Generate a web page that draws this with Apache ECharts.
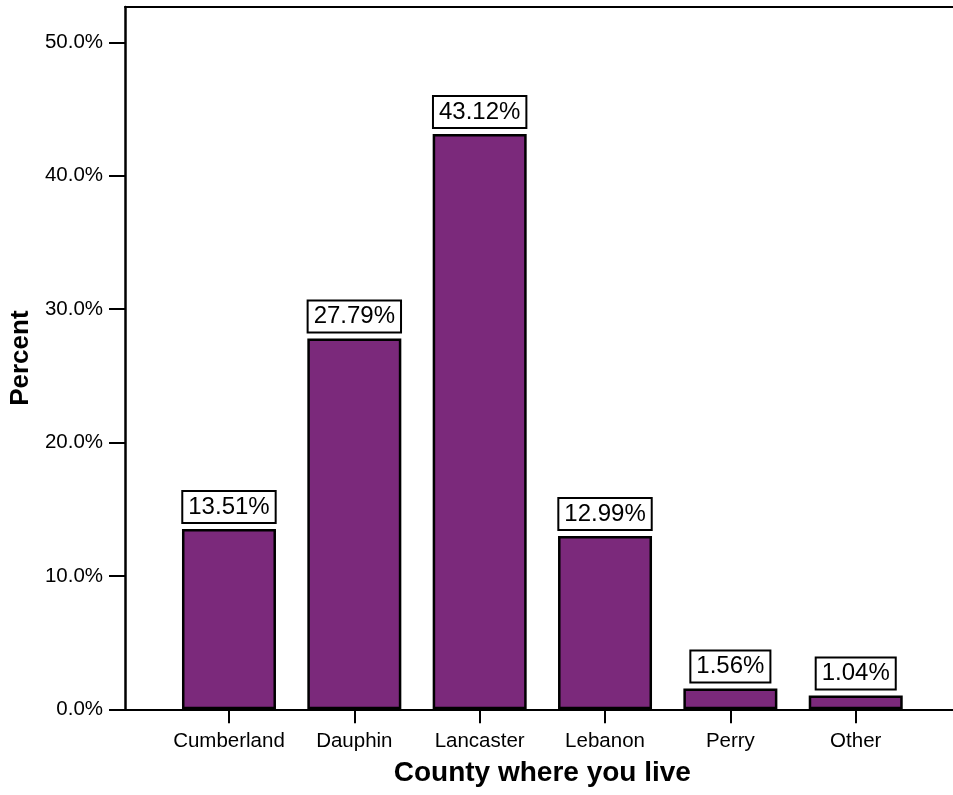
<!DOCTYPE html>
<html>
<head>
<meta charset="utf-8">
<script src="https://cdn.jsdelivr.net/npm/echarts@6/dist/echarts.min.js"></script>
<style>html,body{margin:0;padding:0;background:#fff}#c{width:953px;height:795px}</style>
</head>
<body>
<div id="c"></div>
<script>
const categories = ['Cumberland', 'Dauphin', 'Lancaster', 'Lebanon', 'Perry', 'Other'];
const percentValues = [13.51, 27.79, 43.12, 12.99, 1.56, 1.04];
const yTickValues = [0, 10, 20, 30, 40, 50];
const yMax = 52.65;

const FONT = '"Liberation Sans", Arial, Helvetica, sans-serif';
const chart = echarts.init(document.getElementById('c'), null, {renderer: 'canvas'});
const gridA = {left: 124, right: 0, top: 7, bottom: 85.7};
const gridB = {left: 166.3, right: 34.6, top: 7, bottom: 85.7};

chart.setOption({
  backgroundColor: '#ffffff',
  animation: false,
  grid: [gridA, gridB],
  xAxis: [
    {gridIndex: 0, type: 'value', min: 0, max: 1, position: 'bottom',
     axisLine: {show: true, lineStyle: {color: '#000', width: 2}},
     axisTick: {show: false}, axisLabel: {show: false}, splitLine: {show: false}},
    {gridIndex: 0, type: 'value', min: 0, max: 1, position: 'top',
     axisLine: {show: true, lineStyle: {color: '#000', width: 2}},
     axisTick: {show: false}, axisLabel: {show: false}, splitLine: {show: false}},
    {gridIndex: 1, type: 'category', data: categories, position: 'bottom',
     name: 'County where you live', nameLocation: 'middle', nameGap: 50,
     nameTextStyle: {fontFamily: FONT, fontSize: 28, fontWeight: 'bold', color: '#000'},
     axisLine: {show: false},
     axisTick: {show: true, alignWithLabel: true, interval: 0, length: 14, lineStyle: {color: '#000', width: 2}},
     axisLabel: {fontFamily: FONT, fontSize: 20.5, color: '#000', margin: 22, interval: 0, hideOverlap: false},
     splitLine: {show: false}}
  ],
  yAxis: [
    {gridIndex: 0, type: 'value', min: 0, max: yMax,
     name: 'Percent', nameLocation: 'middle', nameGap: 87, nameRotate: 90,
     nameTextStyle: {fontFamily: FONT, fontSize: 26, fontWeight: 'bold', color: '#000'},
     axisLine: {show: true, lineStyle: {color: '#000', width: 2.5}},
     axisTick: {show: true, length: 16, customValues: yTickValues, lineStyle: {color: '#000', width: 2}},
     axisLabel: {fontFamily: FONT, fontSize: 20.5, color: '#000', margin: 22, customValues: yTickValues,
                 formatter: v => v.toFixed(1) + '%'},
     splitLine: {show: false}},
    {gridIndex: 1, type: 'value', min: 0, max: yMax, show: false}
  ],
  series: [{
    type: 'bar',
    xAxisIndex: 2,
    yAxisIndex: 1,
    data: percentValues,
    barWidth: 94,
    itemStyle: {color: '#7b297b', borderColor: '#000', borderWidth: 2.5},
    label: {
      show: true, position: 'top', distance: 7,
      formatter: p => p.value.toFixed(2) + '%',
      fontFamily: FONT, fontSize: 24, color: '#000',
      backgroundColor: '#fff', borderColor: '#000', borderWidth: 2,
      padding: [4, 5, 4, 5], lineHeight: 22
    }
  }]
});
</script>
</body>
</html>
